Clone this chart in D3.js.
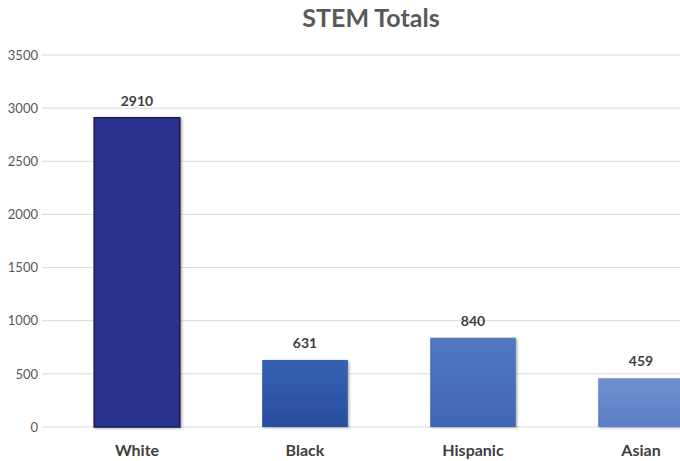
<!DOCTYPE html>
<html>
<head>
<meta charset="utf-8">
<script src="https://cdn.jsdelivr.net/npm/d3@7"></script>
<style>
  html, body { margin: 0; padding: 0; background: #fff; overflow: hidden; }
  svg { display: block; font-family: Lato, "Open Sans", sans-serif; }
</style>
</head>
<body>
<div id="chart"></div>
<script>
// chart data
const categories = ["White", "Black", "Hispanic", "Asian"];
const totals = [2910, 631, 840, 459];
const yTicks = [0, 500, 1000, 1500, 2000, 2500, 3000, 3500];
const barTop = ["#2c3190", "#3562b3", "#5179c2", "#7090cf"];
const barBottom = ["#2c3190", "#2a4d9f", "#4065b5", "#5a7ec6"];

const width = 680, height = 461;

const svg = d3.select("#chart").append("svg")
    .attr("width", width)
    .attr("height", height);

const defs = svg.append("defs");
categories.forEach((c, i) => {
    const grad = defs.append("linearGradient")
        .attr("id", `grad-${i}`)
        .attr("x1", 0).attr("y1", 0).attr("x2", 0).attr("y2", 1);
    grad.append("stop").attr("offset", "0%").attr("stop-color", barTop[i]);
    grad.append("stop").attr("offset", "100%").attr("stop-color", barBottom[i]);
});
const shadow = defs.append("filter").attr("id", "shadow")
    .attr("x", "-10%").attr("y", "-10%").attr("width", "130%").attr("height", "130%");
shadow.append("feDropShadow")
    .attr("dx", 1.5).attr("dy", 1).attr("stdDeviation", 1)
    .attr("flood-color", "#000").attr("flood-opacity", 0.3);

const y = d3.scaleLinear().domain([0, 3500]).range([427, 55]);
const x = d3.scaleBand().domain(categories).range([53, 725])
    .paddingInner(0.49).paddingOuter(0.245);

// gridlines
svg.append("g").attr("class", "grid")
    .selectAll("line").data(yTicks).join("line")
    .attr("x1", 42).attr("x2", width)
    .attr("y1", d => y(d)).attr("y2", d => y(d))
    .attr("stroke", "#d9d9d9").attr("stroke-width", 1);

// y axis labels
const yAxis = d3.axisLeft(y).tickValues(yTicks).tickSize(0).tickPadding(0)
    .tickFormat(d3.format("d"));
svg.append("g")
    .attr("transform", "translate(38,0)")
    .call(yAxis)
    .call(g => g.select(".domain").remove())
    .call(g => g.selectAll("text")
        .attr("fill", "#595959")
        .style("font-size", "13px")
        .style("font-family", "Lato, sans-serif"));

// bars
svg.append("g").attr("class", "bars")
    .selectAll("rect").data(categories).join("rect")
    .attr("x", d => x(d))
    .attr("y", (d, i) => y(totals[i]))
    .attr("width", x.bandwidth())
    .attr("height", (d, i) => y(0) - y(totals[i]))
    .attr("fill", (d, i) => `url(#grad-${i})`)
    .attr("stroke", (d, i) => i === 0 ? "#1b1d4a" : "none")
    .attr("stroke-width", 1.5)
    .attr("filter", "url(#shadow)");

// value labels
svg.append("g")
    .selectAll("text").data(categories).join("text")
    .attr("x", d => x(d) + x.bandwidth() / 2)
    .attr("y", (d, i) => y(totals[i]) - 12)
    .attr("text-anchor", "middle")
    .attr("fill", "#404040")
    .style("font-size", "14px")
    .style("font-weight", "bold")
    .text((d, i) => totals[i]);

// category labels
svg.append("g")
    .selectAll("text").data(categories).join("text")
    .attr("x", d => x(d) + x.bandwidth() / 2)
    .attr("y", 456)
    .attr("text-anchor", "middle")
    .attr("fill", "#404040")
    .style("font-size", "16px")
    .style("font-weight", "bold")
    .text(d => d);

// title
svg.append("text")
    .attr("x", 371).attr("y", 27)
    .attr("text-anchor", "middle")
    .attr("fill", "#595959")
    .style("font-size", "25px")
    .style("font-weight", "bold")
    .text("STEM Totals");
</script>
</body>
</html>
